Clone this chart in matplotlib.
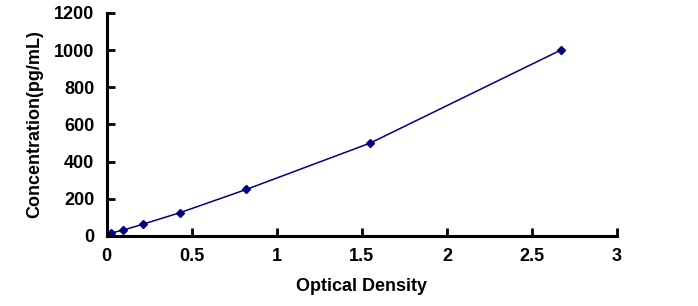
import matplotlib
matplotlib.use("Agg")
import matplotlib.pyplot as plt

# standard curve values
optical_density = [0.024, 0.096, 0.21, 0.43, 0.82, 1.55, 2.67]
concentration = [15.6, 31.2, 62.5, 125, 250, 500, 1000]

x_ticks = [0, 0.5, 1, 1.5, 2, 2.5, 3]
x_tick_labels = ["0", "0.5", "1", "1.5", "2", "2.5", "3"]
y_ticks = [0, 200, 400, 600, 800, 1000, 1200]

plt.rcParams['font.family'] = ['Liberation Sans', 'DejaVu Sans']

fig = plt.figure(figsize=(6.98, 3.06), dpi=100)
ax = fig.add_axes([0.153, 0.229, 0.731, 0.729])

ax.plot(optical_density, concentration, color='#000080', lw=1.1,
        marker='D', markersize=4, markerfacecolor='#000080', markeredgecolor='#000080')

ax.set_xlim(0, 3)
ax.set_ylim(0, 1200)
ax.set_xticks(x_ticks)
ax.set_xticklabels(x_tick_labels)
ax.set_yticks(y_ticks)

for side in ['top', 'right']:
    ax.spines[side].set_visible(False)
for side in ['left', 'bottom']:
    ax.spines[side].set_linewidth(2.2)

ax.tick_params(direction='in', length=6, width=2, labelsize=13, pad=9)
for lbl in ax.get_xticklabels() + ax.get_yticklabels():
    lbl.set_fontweight('bold')

ax.set_xlabel('Optical Density', fontsize=13, fontweight='bold', labelpad=9)
ax.set_ylabel('Concentration(pg/mL)', fontsize=13, fontweight='bold', labelpad=8)

fig.savefig('out.png', dpi=100)
